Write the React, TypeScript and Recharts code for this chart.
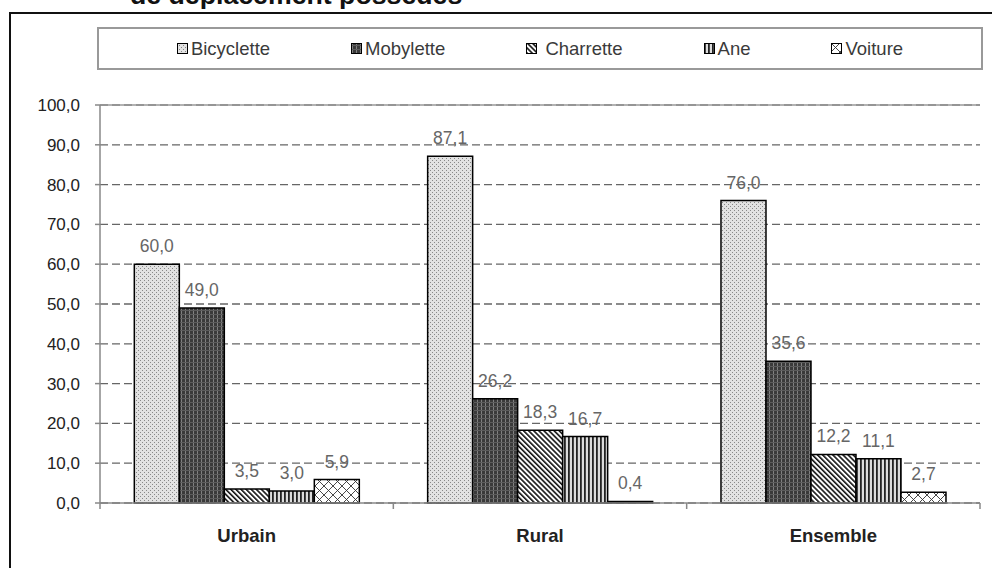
import React from 'react';
import { BarChart, Bar, XAxis, YAxis, CartesianGrid, ReferenceLine, LabelList } from 'recharts';

const categories = ['Urbain', 'Rural', 'Ensemble'];
const bicyclette = [60.0, 87.1, 76.0];
const mobylette = [49.0, 26.2, 35.6];
const charrette = [3.5, 18.3, 12.2];
const ane = [3.0, 16.7, 11.1];
const voiture = [5.9, 0.4, 2.7];
const seriesKeys = ['bicyclette', 'mobylette', 'charrette', 'ane', 'voiture'];
const seriesNames = ['Bicyclette', 'Mobylette', ' Charrette', 'Ane', 'Voiture'];
const seriesPatterns = ['pBic', 'pMob', 'pCha', 'pAne', 'pVoi'];
const yTicks = [0, 10, 20, 30, 40, 50, 60, 70, 80, 90, 100];
const titleText = 'de déplacement possédés';

const seriesValues = [bicyclette, mobylette, charrette, ane, voiture];
const data = categories.map((c, i) => {
  const row: any = { category: c };
  seriesKeys.forEach((k, j) => { row[k] = seriesValues[j][i]; });
  return row;
});

const FONT = '"Liberation Sans", Arial, sans-serif';
const fmt = (v: any) => Number(v).toFixed(1).replace('.', ',');

const Patterns = () => (
  <svg width={0} height={0} style={{ position: 'absolute' }}>
    <defs>
      <pattern id="pBic" width={4} height={4} patternUnits="userSpaceOnUse">
        <rect width={4} height={4} fill="#e2e2e2" />
        <rect x={0} y={0} width={1} height={1} fill="#888" />
        <rect x={2} y={2} width={1} height={1} fill="#888" />
      </pattern>
      <pattern id="pMob" width={4} height={4} patternUnits="userSpaceOnUse">
        <rect width={4} height={4} fill="#3a3a3a" />
        <rect x={1} y={0} width={1} height={4} fill="#808080" />
        <rect x={0} y={2} width={4} height={1} fill="#5c5c5c" />
      </pattern>
      <pattern id="pCha" width={3.6} height={3.6} patternUnits="userSpaceOnUse" patternTransform="rotate(-45)">
        <rect width={3.6} height={3.6} fill="#ffffff" />
        <rect x={0} y={0} width={1.6} height={3.6} fill="#111" />
      </pattern>
      <pattern id="pAne" width={4} height={4} patternUnits="userSpaceOnUse">
        <rect width={4} height={4} fill="#dcdcdc" />
        <rect x={0} y={0} width={1.8} height={4} fill="#222" />
      </pattern>
      <pattern id="pVoi" width={9} height={9} patternUnits="userSpaceOnUse">
        <rect width={9} height={9} fill="#ffffff" />
        <path d="M0,0 L9,9 M9,0 L0,9" stroke="#333" strokeWidth={0.9} />
      </pattern>
    </defs>
  </svg>
);

const CatTick = (props: any) => {
  const { x, y, payload, index, visibleTicksCount } = props;
  const off = payload && typeof payload.offset === 'number' ? payload.offset : 0;
  return (
    <g>
      {off ? <line x1={x - off} x2={x - off} y1={y} y2={y + 6} stroke="#888" strokeWidth={1.5} /> : null}
      {off && index === visibleTicksCount - 1 ? (
        <line x1={x + off} x2={x + off} y1={y} y2={y + 6} stroke="#888" strokeWidth={1.5} />
      ) : null}
      <text x={x} y={y + 39} textAnchor="middle" fontWeight="bold" fontSize={18.5} fill="#222" fontFamily={FONT}>
        {payload.value}
      </text>
    </g>
  );
};

const LegendBox = () => (
  <div
    style={{
      position: 'absolute', left: 97, top: 27, width: 882, height: 39,
      border: '2px solid #999', display: 'flex', justifyContent: 'center', alignItems: 'center',
      gap: 81, fontFamily: FONT, fontSize: 18.5, color: '#3a3a3a', boxSizing: 'content-box',
    }}
  >
    {seriesNames.map((n, i) => (
      <div key={n} style={{ display: 'flex', alignItems: 'center', whiteSpace: 'pre' }}>
        <svg width={11} height={11} style={{ marginRight: 3 }}>
          <rect x={0.5} y={0.5} width={10} height={10} fill={`url(#${seriesPatterns[i]})`} stroke="#000" strokeWidth={1} />
        </svg>
        <span>{n}</span>
      </div>
    ))}
  </div>
);

export default function App() {
  return (
    <div style={{ position: 'fixed', left: 0, top: 0, width: 992, height: 568, background: '#fff', overflow: 'hidden' }}>
      <Patterns />
      <svg width={992} height={20} style={{ position: 'absolute', left: 0, top: 0 }}>
        <text x={130} y={4} fontFamily={FONT} fontWeight="bold" fontSize={26.7} fill="#111">{titleText}</text>
      </svg>
      <div style={{ position: 'absolute', left: 9, top: 12, width: 1000, height: 600, borderLeft: '2.5px solid #111', borderTop: '2.5px solid #111' }} />
      <LegendBox />
      <div style={{ position: 'absolute', left: 0, top: 0 }}>
        <BarChart
          width={992}
          height={568}
          data={data}
          margin={{ top: 105, right: 12, left: 0, bottom: 0 }}
          barCategoryGap="11.7%"
          barGap={0}
        >
          <CartesianGrid vertical={false} stroke="#666" strokeDasharray="8 4" strokeWidth={1.3} />
          <XAxis
            dataKey="category"
            height={65}
            tickSize={0}
            tickMargin={0}
            tickLine={false}
            axisLine={{ stroke: '#888', strokeWidth: 1.5 }}
            tick={<CatTick />}
            interval={0}
          />
          <YAxis
            domain={[0, 100]}
            ticks={yTicks}
            interval={0}
            tickFormatter={fmt}
            width={100}
            tickSize={5}
            tickMargin={15}
            axisLine={{ stroke: '#888', strokeWidth: 1.5 }}
            tickLine={{ stroke: '#888', strokeWidth: 1.5 }}
            tick={{ fontSize: 17, fill: '#222', fontFamily: FONT }}
          />
          <YAxis
            yAxisId="r"
            orientation="right"
            domain={[0, 100]}
            width={0}
            tick={false}
            tickLine={false}
            axisLine={{ stroke: '#999', strokeWidth: 1.5 }}
          />
          <ReferenceLine y={100} stroke="#999" strokeWidth={1.5} />
          {seriesKeys.map((k, i) => (
            <Bar key={k} dataKey={k} name={seriesNames[i]} fill={`url(#${seriesPatterns[i]})`} stroke="#000" strokeWidth={1.5} isAnimationActive={false}>
              <LabelList dataKey={k} position="top" offset={12} formatter={fmt} fill="#666" fontSize={17.5} fontFamily={FONT} />
            </Bar>
          ))}
        </BarChart>
      </div>
    </div>
  );
}
